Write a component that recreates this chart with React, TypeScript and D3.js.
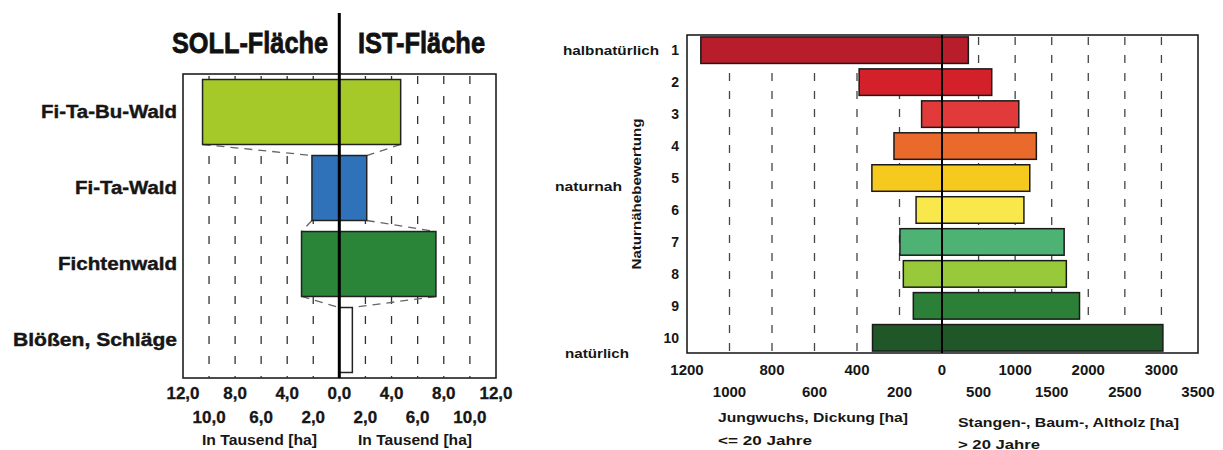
import React from "react";
import * as d3 from "d3";

// ---------- left chart data (thousand ha) ----------
const forestTypes = ["Fi-Ta-Bu-Wald", "Fi-Ta-Wald", "Fichtenwald", "Blößen, Schläge"];
const forestLabelWidths = [136, 102, 119, 164];
const sollArea = [10.5, 2.1, 2.9, 0];
const istArea = [4.7, 2.1, 7.4, 1.0];
const forestColors = ["#a6c92a", "#2f72b9", "#2b8538", "#ffffff"];
const areaTicksRow1Left = [12, 8, 4, 0];
const areaTicksRow1Right = [4, 8, 12];
const areaTicksRow2 = [10, 6, 2];
const areaGrid = [2, 4, 6, 8, 10];

// ---------- right chart data (ha) ----------
const naturalnessClasses = ["1", "2", "3", "4", "5", "6", "7", "8", "9", "10"];
const youngArea = [1135, 390, 96, 226, 330, 122, 198, 182, 135, 327];
const oldArea = [360, 680, 1050, 1290, 1200, 1120, 1670, 1700, 1880, 3020];
const classColors = [
  "#b71d2b", "#d3202b", "#e2393a", "#e96a2b", "#f6c91f",
  "#f8e84c", "#4db274", "#97c93b", "#2b7f36", "#1f5728",
];
const youngTicksRow1 = [1200, 800, 400, 0];
const youngTicksRow2 = [1000, 600, 200];
const oldTicksRow1 = [1000, 2000, 3000];
const oldTicksRow2 = [500, 1500, 2500, 3500];
const youngGrid = [200, 400, 600, 800, 1000];
const oldGrid = [500, 1000, 1500, 2000, 2500, 3000];

const FONT = "'Liberation Sans', Arial, Helvetica, sans-serif";
const INK = "#161616";
const fmtArea = (v: number) => d3.format(".1f")(v).replace(".", ",");

function LeftChart() {
  const x0 = 339.3;
  const xSoll = d3.scaleLinear().domain([0, 12]).range([x0, 183]);
  const xIst = d3.scaleLinear().domain([0, 12]).range([x0, 496]);
  const y = d3
    .scaleBand<string>()
    .domain(forestTypes)
    .range([74, 378])
    .paddingInner(0.145)
    .paddingOuter(0.0725);
  const top = 74;
  const bottom = 378;
  const bw = y.bandwidth();

  const connectors: JSX.Element[] = [];
  for (let i = 0; i < forestTypes.length - 1; i++) {
    const yb = (y(forestTypes[i]) as number) + bw;
    const yt = y(forestTypes[i + 1]) as number;
    connectors.push(
      <line key={"cl" + i} x1={xSoll(sollArea[i])} y1={yb} x2={xSoll(sollArea[i + 1])} y2={yt}
        stroke="#666" strokeWidth={1.3} strokeDasharray="8 6" />,
      <line key={"cr" + i} x1={xIst(istArea[i])} y1={yb} x2={xIst(istArea[i + 1])} y2={yt}
        stroke="#666" strokeWidth={1.3} strokeDasharray="8 6" />
    );
  }

  return (
    <g fontFamily={FONT} fontWeight="bold">
      <rect x={183} y={top} width={496 - 183} height={bottom - top} fill="#fff" stroke="#111" strokeWidth={1.5} />
      {areaGrid.map((v) => (
        <g key={"g" + v}>
          <line x1={xSoll(v)} x2={xSoll(v)} y1={top + 2} y2={bottom} stroke="#333" strokeWidth={1.3} strokeDasharray="8 12" />
          <line x1={xIst(v)} x2={xIst(v)} y1={top + 2} y2={bottom} stroke="#333" strokeWidth={1.3} strokeDasharray="8 12" />
        </g>
      ))}
      {connectors}
      {forestTypes.map((c, i) => (
        <rect key={c} x={xSoll(sollArea[i])} y={y(c)} width={xIst(istArea[i]) - xSoll(sollArea[i])} height={bw}
          fill={forestColors[i]} stroke="#222" strokeWidth={1.5} />
      ))}
      {forestTypes.map((c, i) => (
        <text key={"t" + c} x={177 - forestLabelWidths[i]} y={(y(c) as number) + bw / 2} dominantBaseline="central"
          fontSize={18} textLength={forestLabelWidths[i]} lengthAdjust="spacingAndGlyphs"
          fill={INK} stroke={INK} strokeWidth={0.4}>{c}</text>
      ))}
      <line x1={x0} x2={x0} y1={13} y2={bottom} stroke="#000" strokeWidth={3} />
      <g fill="#111" stroke="#111" strokeWidth={0.8}>
        <text x={172} y={53} fontSize={30} textLength={156} lengthAdjust="spacingAndGlyphs">SOLL-Fläche</text>
        <text x={358} y={53} fontSize={30} textLength={127} lengthAdjust="spacingAndGlyphs">IST-Fläche</text>
      </g>
      <g fill={INK} stroke={INK} strokeWidth={0.3} fontSize={17} textAnchor="middle">
        {areaTicksRow1Left.map((v) => (
          <text key={"a1l" + v} x={xSoll(v)} y={393} dominantBaseline="central">{fmtArea(v)}</text>
        ))}
        {areaTicksRow1Right.map((v) => (
          <text key={"a1r" + v} x={xIst(v)} y={393} dominantBaseline="central">{fmtArea(v)}</text>
        ))}
        {areaTicksRow2.map((v) => (
          <g key={"a2" + v}>
            <text x={xSoll(v)} y={417} dominantBaseline="central">{fmtArea(v)}</text>
            <text x={xIst(v)} y={417} dominantBaseline="central">{fmtArea(v)}</text>
          </g>
        ))}
      </g>
      <text x={202} y={440} dominantBaseline="central" fontSize={14} textLength={115} lengthAdjust="spacingAndGlyphs" fill={INK}>In Tausend [ha]</text>
      <text x={358} y={440} dominantBaseline="central" fontSize={14} textLength={114} lengthAdjust="spacingAndGlyphs" fill={INK}>In Tausend [ha]</text>
    </g>
  );
}

function RightChart() {
  const x0 = 942;
  const left = 687;
  const right = 1198;
  const top = 35;
  const bottom = 353;
  const xYoung = d3.scaleLinear().domain([0, 1200]).range([x0, left]);
  const xOld = d3.scaleLinear().domain([0, 3500]).range([x0, right]);
  const y = d3
    .scaleBand<string>()
    .domain(naturalnessClasses)
    .range([top, bottom])
    .paddingInner(0.17)
    .paddingOuter(0.06);
  const bw = y.bandwidth();
  const cy = (c: string) => (y(c) as number) + bw / 2;

  return (
    <g fontFamily={FONT} fontWeight="bold">
      <rect x={left} y={top} width={right - left} height={bottom - top} fill="#fff" stroke="#111" strokeWidth={1.5} />
      {youngGrid.map((v) => (
        <line key={"yg" + v} x1={xYoung(v)} x2={xYoung(v)} y1={top + 2} y2={bottom} stroke="#444" strokeWidth={1.3} strokeDasharray="8 10" />
      ))}
      {oldGrid.map((v) => (
        <line key={"og" + v} x1={xOld(v)} x2={xOld(v)} y1={top + 2} y2={bottom} stroke="#444" strokeWidth={1.3} strokeDasharray="8 10" />
      ))}
      {naturalnessClasses.map((c, i) => (
        <rect key={c} x={xYoung(youngArea[i])} y={y(c)} width={xOld(oldArea[i]) - xYoung(youngArea[i])} height={bw}
          fill={classColors[i]} stroke="#1a1a1a" strokeWidth={1.5} />
      ))}
      <line x1={x0} x2={x0} y1={top} y2={bottom} stroke="#000" strokeWidth={2} />
      {naturalnessClasses.map((c) => (
        <text key={"n" + c} x={679} y={cy(c)} textAnchor="end" dominantBaseline="central" fontSize={14} fill={INK}>{c}</text>
      ))}
      <text x={563} y={cy("1")} dominantBaseline="central" fontSize={13} textLength={96} lengthAdjust="spacingAndGlyphs" fill={INK}>halbnatürlich</text>
      <text x={555} y={cy("5") + 8} dominantBaseline="central" fontSize={13} textLength={67} lengthAdjust="spacingAndGlyphs" fill={INK}>naturnah</text>
      <text x={565} y={cy("10") + 16} dominantBaseline="central" fontSize={13} textLength={64} lengthAdjust="spacingAndGlyphs" fill={INK}>natürlich</text>
      <text transform={`translate(637,${(cy("3") + cy("8")) / 2}) rotate(-90)`} textAnchor="middle" dominantBaseline="central"
        fontSize={12} textLength={151} lengthAdjust="spacingAndGlyphs" fill={INK}>Naturnähebewertung</text>
      <g fontSize={15} fill={INK} textAnchor="middle">
        {youngTicksRow1.map((v) => (
          <text key={"y1" + v} x={xYoung(v)} y={369} dominantBaseline="central">{v}</text>
        ))}
        {oldTicksRow1.map((v) => (
          <text key={"o1" + v} x={xOld(v)} y={369} dominantBaseline="central">{v}</text>
        ))}
        {youngTicksRow2.map((v) => (
          <text key={"y2" + v} x={xYoung(v)} y={391} dominantBaseline="central">{v}</text>
        ))}
        {oldTicksRow2.map((v) => (
          <text key={"o2" + v} x={xOld(v)} y={391} dominantBaseline="central">{v}</text>
        ))}
      </g>
      <text x={718} y={417} dominantBaseline="central" fontSize={13} textLength={190} lengthAdjust="spacingAndGlyphs" fill={INK}>Jungwuchs, Dickung [ha]</text>
      <text x={718} y={440} dominantBaseline="central" fontSize={13} textLength={94} lengthAdjust="spacingAndGlyphs" fill={INK}>&lt;= 20 Jahre</text>
      <text x={958} y={422} dominantBaseline="central" fontSize={13} textLength={221} lengthAdjust="spacingAndGlyphs" fill={INK}>Stangen-, Baum-, Altholz [ha]</text>
      <text x={958} y={444} dominantBaseline="central" fontSize={13} textLength={82} lengthAdjust="spacingAndGlyphs" fill={INK}>&gt; 20 Jahre</text>
    </g>
  );
}

export default function App() {
  return (
    <svg width={1223} height={450} viewBox="0 0 1223 450"
      style={{ position: "absolute", left: 0, top: 0, background: "#fff" }}>
      <rect x={0} y={0} width={1223} height={450} fill="#fff" />
      <LeftChart />
      <RightChart />
    </svg>
  );
}
